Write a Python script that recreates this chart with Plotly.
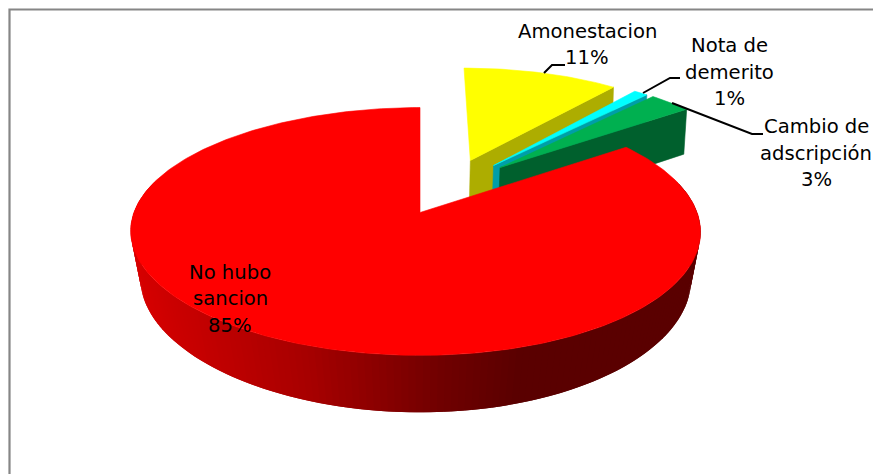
import numpy as np
import plotly.graph_objects as go

# ---- data ----
categories = ["Amonestacion", "Nota de<br>demerito", "Cambio de<br>adscripción", "No hubo<br>sancion"]
values = [11, 1, 3, 85]

# ---- styles / chart geometry ----
top_colors = ["#FFFF00", "#00FFFF", "#00B050", "#FF0000"]
side_colors = ["#ADAD00", "#009EA8", "#00602D", None]
explode = [(0.192, 0.46), (0.279, 0.413), (0.303, 0.394), (0.0, 0.0)]
label_pos = [(587, 44.5), (729, 72), (816, 153), (230, 298.5)]
leaders = [
    ([544, 552, 565], [73, 65, 65]),
    ([643, 670, 680], [93, 78, 78]),
    ([672, 752, 763], [103, 134, 134]),
]
X0, Y0, A, B, K = 420.0, 212.5, 281.6, 121.0, 0.153
BOW = 4.5
FONT = "DejaVu Sans"
FONT_SIZE = 19.6
LINE_GAP = 26.5


def project(x, y):
    x = np.asarray(x, float)
    w = 1 + K * np.asarray(y, float)
    return X0 + A * x / w - BOW * x * x, Y0 - B * np.asarray(y, float) / w


def drop(px, py):
    depth = 45 + (py - 110) * 12 / 245
    s = 0.989 - (py - 110) * 0.000192
    return X0 + (px - X0) * s, py + depth


def red_shade(px):
    stops_x = [130, 200, 300, 400, 440, 520, 700]
    stops_v = [215, 195, 168, 128, 112, 90, 90]
    v = int(np.interp(px, stops_x, stops_v))
    return f"rgb({v},0,0)"


def poly(fig, xs, ys, color, edge=0.6):
    fig.add_trace(go.Scatter(x=list(xs), y=list(ys), mode="lines", fill="toself",
                             fillcolor=color, line=dict(color=color, width=edge),
                             hoverinfo="skip", showlegend=False))


fig = go.Figure()
start = 0.0
total = sum(values)
for i, val in enumerate(values):
    end = start + val / total * 2 * np.pi
    n = max(6, int(val * 4))
    th = np.linspace(start, end, n + 1)
    ox, oy = explode[i]
    arc_x, arc_y = project(ox + np.sin(th), oy + np.cos(th))
    ax, ay = project(ox, oy)
    if side_colors[i]:
        # cut face running from the apex to the slice's trailing corner
        bx1, by1 = drop(ax, ay)
        bx2, by2 = drop(arc_x[-1], arc_y[-1])
        poly(fig, [ax, arc_x[-1], bx2, bx1, ax], [ay, arc_y[-1], by2, by1, ay], side_colors[i])
    else:
        # outer wall of the big slice, shaded band by band; each band overlaps the next
        dense = np.linspace(start, end, 240)
        wx, wy = project(ox + np.sin(dense), oy + np.cos(dense))
        bx, by = drop(wx, wy)
        for j in range(len(dense) - 2):
            if np.cos(dense[j + 1]) < 0.25:
                poly(fig, [wx[j], wx[j + 2], bx[j + 2], bx[j], wx[j]],
                     [wy[j], wy[j + 2], by[j + 2], by[j], wy[j]],
                     red_shade(wx[j + 1]), edge=0)
    poly(fig, np.r_[ax, arc_x, ax], np.r_[ay, arc_y, ay], top_colors[i])
    start = end

for lx, ly in leaders:
    fig.add_trace(go.Scatter(x=lx, y=ly, mode="lines", line=dict(color="black", width=2),
                             hoverinfo="skip", showlegend=False))

for name, val, (tx, ty) in zip(categories, values, label_pos):
    lines = name.split("<br>") + [f"{val}%"]
    for k, line in enumerate(lines):
        fig.add_annotation(x=tx, y=ty + (k - (len(lines) - 1) / 2) * LINE_GAP, xref="x", yref="y",
                           text=line, showarrow=False,
                           font=dict(family=FONT, size=FONT_SIZE, color="black"), align="center")

# chart frame
fig.add_trace(go.Scatter(x=[9.5, 9.5, 880], y=[480, 9.5, 9.5], mode="lines",
                         line=dict(color="#868686", width=2.2), hoverinfo="skip", showlegend=False))

fig.update_layout(
    width=873, height=474, margin=dict(l=0, r=0, t=0, b=0), autosize=False,
    paper_bgcolor="white", plot_bgcolor="white", showlegend=False,
    xaxis=dict(range=[0, 873], visible=False, fixedrange=True),
    yaxis=dict(range=[474, 0], visible=False, fixedrange=True),
)
fig.write_html("out.html", config={"displayModeBar": False},
               post_script="document.body.style.margin='0';document.body.style.overflow='hidden';")
